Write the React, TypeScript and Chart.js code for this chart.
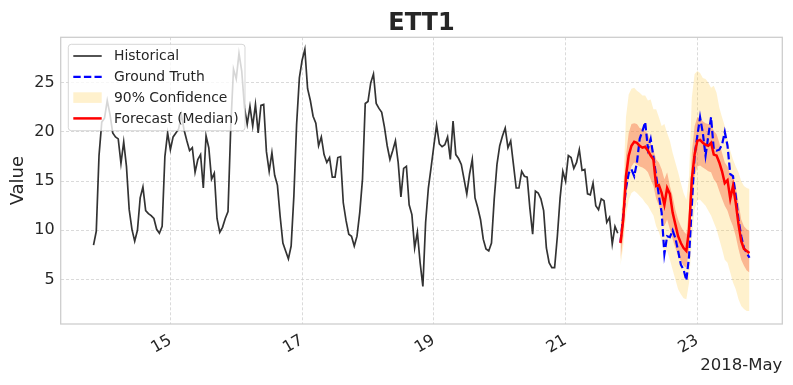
import React, { useEffect, useRef } from "react";
import { Chart, registerables } from "chart.js";

Chart.register(...registerables);

// 2018-05-13 20:00, hourly samples (x values are day-of-month)
const START_DAY = 13 + 20 / 24;
const X_TICKS = [15, 17, 19, 21, 23];
const Y_TICKS = [5, 10, 15, 20, 25];

const HISTORICAL = [
  8.5, 9.9, 17.6, 21.0, 21.4, 23.2, 21.8, 19.9, 19.5, 19.3,
  16.8, 19.0, 16.5, 12.1, 10.1, 8.9, 10.0, 13.3, 14.4, 12.0,
  11.7, 11.5, 11.2, 10.1, 9.7, 10.4, 17.5, 19.9, 18.2, 19.5,
  19.9, 20.3, 21.8, 20.2, 19.1, 18.1, 18.4, 15.9, 17.2, 17.7,
  14.3, 19.6, 18.4, 15.2, 15.8, 11.2, 9.8, 10.3, 11.2, 11.9,
  20.5, 26.4, 25.4, 28.0, 26.2, 22.5, 20.8, 22.6, 20.6, 22.8,
  19.9, 22.7, 22.8, 18.0, 16.0, 17.9, 15.6, 14.6, 11.4, 8.7,
  7.9, 7.1, 8.4, 13.5, 20.8, 25.5, 27.3, 28.4, 24.4, 23.2,
  21.6, 20.9, 18.6, 19.5, 17.7, 16.9, 17.4, 15.4, 15.4, 17.4,
  17.5, 12.8, 11.0, 9.6, 9.4, 8.4, 9.4, 11.8, 15.2, 22.9,
  23.1, 25.0, 25.9, 22.9, 22.4, 22.0, 20.5, 18.6, 17.2, 18.1,
  19.1, 16.9, 13.4, 16.3, 16.5, 12.6, 11.6, 8.2, 9.8, 6.7,
  4.3, 10.8, 14.3, 16.4, 18.6, 20.7, 18.8, 18.5, 18.7, 19.5,
  17.2, 21.1, 17.7, 17.3, 16.7, 15.2, 13.7, 15.7, 17.2, 13.3,
  12.3, 11.1, 9.1, 8.1, 7.9, 8.7, 13.2, 16.7, 18.6, 19.6,
  20.4, 18.4, 19.1, 16.7, 14.3, 14.3, 16.0, 15.5, 15.4, 12.2,
  9.6, 14.0, 13.8, 13.2, 12.0, 8.2, 6.7, 6.2, 6.2, 9.4,
  13.3, 16.0, 15.0, 17.6, 17.4, 16.3, 16.9, 18.2, 16.1, 16.2,
  13.7, 13.6, 14.8, 12.5, 12.1, 13.2, 13.0, 10.8, 11.3, 8.6,
  10.4, 9.7,
];

const GROUND_TRUTH = [
  8.8, 11.5, 14.3, 15.8, 16.2, 15.5, 16.9, 19.3, 20.1, 21.0,
  18.3, 19.3, 17.5, 15.5, 13.5, 11.8, 7.6, 9.4, 9.3, 10.0,
  9.2, 7.9, 6.5, 6.0, 4.9, 7.4, 12.5, 17.6, 19.6, 21.5,
  19.9, 17.6, 19.6, 21.5, 18.2, 18.1, 18.2, 18.7, 20.0, 18.6,
  15.7, 15.5, 13.5, 11.1, 9.4, 8.2, 7.7, 7.2,
];

const MEDIAN = [
  8.7, 11.1, 15.5, 17.6, 18.6, 19.0, 18.9, 18.6, 18.4, 18.5,
  18.1, 17.6, 17.2, 14.5, 14.6, 13.8, 12.6, 14.3, 13.7, 11.8,
  10.6, 9.4, 8.7, 8.2, 7.9, 10.1, 15.2, 17.7, 19.1, 19.2,
  18.9, 18.7, 18.6, 18.9, 17.7, 17.6, 16.9, 16.0, 14.8, 15.1,
  13.2, 14.5, 12.8, 10.6, 8.9, 8.1, 7.9, 7.7,
];

const UPPER_90 = [
  10.4, 14.5, 21.5, 23.8, 24.4, 24.5, 24.2, 24.0, 23.7, 23.7,
  23.2, 23.3, 22.3, 22.3, 21.5, 20.6, 20.8, 19.9, 19.1, 17.9,
  16.9, 15.9, 14.8, 13.8, 13.1, 15.5, 23.5, 25.9, 26.2, 26.0,
  25.5, 25.4, 25.0, 24.5, 24.7, 24.0, 22.5, 21.5, 20.6, 19.4,
  18.1, 17.2, 16.5, 15.9, 15.0, 14.5, 14.3, 14.2,
];

const LOWER_90 = [
  6.4, 8.4, 11.5, 13.1, 13.8, 14.0, 13.8, 13.5, 13.2, 12.8,
  12.5, 12.0, 11.5, 10.4, 9.8, 8.9, 7.7, 7.9, 7.0, 6.0,
  5.0, 4.0, 3.5, 3.1, 3.0, 4.7, 9.1, 12.1, 13.1, 13.1,
  12.8, 12.5, 12.0, 11.5, 10.8, 10.1, 9.1, 8.1, 7.0, 6.7,
  5.7, 4.7, 4.0, 3.0, 2.3, 2.0, 1.8, 1.8,
];

const UPPER_50 = [
  9.8, 12.8, 17.6, 19.9, 20.8, 20.9, 20.8, 20.4, 20.3, 20.1,
  19.8, 18.9, 18.2, 17.2, 16.9, 16.2, 15.2, 15.9, 14.5, 13.5,
  12.1, 11.1, 10.4, 9.9, 9.6, 12.1, 17.9, 20.6, 21.5, 21.4,
  21.1, 20.9, 20.8, 20.8, 20.1, 19.8, 18.9, 17.9, 16.9, 16.5,
  15.7, 15.5, 14.5, 12.8, 11.1, 10.4, 10.1, 9.9,
];

const LOWER_50 = [
  7.0, 9.4, 13.2, 15.4, 16.5, 16.9, 16.7, 16.5, 16.4, 16.2,
  15.9, 15.2, 14.5, 13.2, 12.5, 11.6, 10.4, 11.1, 10.1, 9.1,
  8.2, 7.4, 6.9, 6.4, 6.2, 8.1, 12.8, 15.5, 16.5, 16.6,
  16.4, 16.2, 16.0, 15.9, 15.2, 14.8, 14.0, 13.2, 12.5, 12.0,
  11.1, 10.4, 9.4, 8.1, 7.0, 6.4, 5.9, 5.7,
];

const X_MIN = 13.335;
const X_MAX = 24.29;
const Y_MIN = 0.47;
const Y_MAX = 29.63;

const FONT = '"DejaVu Sans", sans-serif';
const TEXT = "#262626";
const BAND90 = "rgba(255,200,60,0.26)";
const BAND50 = "rgba(245,80,40,0.36)";
const HIST_COLOR = "rgba(0,0,0,0.8)";

const toPoints = (vals: number[], offset: number) =>
  vals.map((v, i) => ({ x: START_DAY + (offset + i) / 24, y: v }));

const decorPlugin = {
  id: "decor",
  afterDraw(chart: any) {
    const { ctx, chartArea: a } = chart;
    ctx.save();
    // frame
    ctx.strokeStyle = "#cccccc";
    ctx.lineWidth = 1.25;
    ctx.setLineDash([]);
    ctx.strokeRect(a.left, a.top, a.right - a.left, a.bottom - a.top);

    // title
    ctx.fillStyle = TEXT;
    ctx.font = `bold 24px ${FONT}`;
    ctx.textAlign = "center";
    ctx.textBaseline = "alphabetic";
    ctx.fillText("ETT1", (a.left + a.right) / 2, 30);

    // date offset text
    ctx.font = `16.5px ${FONT}`;
    ctx.textAlign = "right";
    ctx.textBaseline = "middle";
    ctx.fillText("2018-May", a.right, 366);

    // legend
    const lx = a.left + 7.6;
    const ly = a.top + 7;
    const lw = 176.7;
    const lh = 86.4;
    ctx.beginPath();
    ctx.roundRect(lx, ly, lw, lh, 3);
    ctx.fillStyle = "rgba(255,255,255,0.8)";
    ctx.fill();
    ctx.strokeStyle = "rgba(204,204,204,0.8)";
    ctx.lineWidth = 1;
    ctx.stroke();

    const sx0 = lx + 5;
    const sx1 = lx + 33.4;
    const tx = lx + 45.7;
    const rowY = (i: number) => ly + 11.7 + i * 20.8;

    // Historical
    ctx.beginPath();
    ctx.strokeStyle = HIST_COLOR;
    ctx.lineWidth = 1.7;
    ctx.moveTo(sx0, rowY(0));
    ctx.lineTo(sx1, rowY(0));
    ctx.stroke();
    // Ground truth
    ctx.beginPath();
    ctx.strokeStyle = "#0000ff";
    ctx.lineWidth = 2.2;
    ctx.setLineDash([7.4, 3.2]);
    ctx.moveTo(sx0, rowY(1));
    ctx.lineTo(sx1, rowY(1));
    ctx.stroke();
    ctx.setLineDash([]);
    // 90% band
    ctx.fillStyle = BAND90;
    ctx.fillRect(sx0, rowY(2) - 5.3, sx1 - sx0, 10.6);
    // Median
    ctx.beginPath();
    ctx.strokeStyle = "#ff0000";
    ctx.lineWidth = 2.5;
    ctx.moveTo(sx0, rowY(3));
    ctx.lineTo(sx1, rowY(3));
    ctx.stroke();

    ctx.fillStyle = TEXT;
    ctx.font = `13.9px ${FONT}`;
    ctx.textAlign = "left";
    ctx.textBaseline = "middle";
    ["Historical", "Ground Truth", "90% Confidence", "Forecast (Median)"].forEach(
      (t, i) => ctx.fillText(t, tx, rowY(i) + 0.5)
    );
    ctx.restore();
  },
};

export default function App() {
  const ref = useRef<HTMLCanvasElement | null>(null);

  useEffect(() => {
    if (!ref.current) return;
    Chart.defaults.font.family = FONT;
    const fc = HISTORICAL.length;
    const chart = new Chart(ref.current, {
      type: "line",
      data: {
        datasets: [
          {
            label: "Forecast (Median)",
            data: toPoints(MEDIAN, fc),
            borderColor: "#ff0000",
            borderWidth: 2.5,
            pointRadius: 0,
            fill: false,
            order: 0,
          },
          {
            label: "Ground Truth",
            data: toPoints(GROUND_TRUTH, fc),
            borderColor: "#0000ff",
            borderWidth: 2.2,
            borderDash: [7.4, 3.2],
            pointRadius: 0,
            fill: false,
            order: 1,
          },
          {
            label: "Historical",
            data: toPoints(HISTORICAL, 0),
            borderColor: HIST_COLOR,
            borderWidth: 1.7,
            pointRadius: 0,
            fill: false,
            order: 2,
          },
          {
            label: "50% upper",
            data: toPoints(UPPER_50, fc),
            borderWidth: 0,
            borderColor: "rgba(0,0,0,0)",
            backgroundColor: BAND50,
            pointRadius: 0,
            fill: "+1",
            order: 3,
          },
          {
            label: "50% lower",
            data: toPoints(LOWER_50, fc),
            borderWidth: 0,
            borderColor: "rgba(0,0,0,0)",
            pointRadius: 0,
            fill: false,
            order: 4,
          },
          {
            label: "90% Confidence",
            data: toPoints(UPPER_90, fc),
            borderWidth: 0,
            borderColor: "rgba(0,0,0,0)",
            backgroundColor: BAND90,
            pointRadius: 0,
            fill: "+1",
            order: 5,
          },
          {
            label: "90% lower",
            data: toPoints(LOWER_90, fc),
            borderWidth: 0,
            borderColor: "rgba(0,0,0,0)",
            pointRadius: 0,
            fill: false,
            order: 6,
          },
        ],
      },
      options: {
        responsive: false,
        animation: false,
        devicePixelRatio: 1,
        layout: { padding: { top: 37.3, right: 10.7, left: 0, bottom: 0 } },
        plugins: {
          legend: { display: false },
          title: { display: false },
          tooltip: { enabled: false },
        },
        elements: { line: { tension: 0 } },
        scales: {
          x: {
            type: "linear",
            min: X_MIN,
            max: X_MAX,
            afterBuildTicks: (s: any) => {
              s.ticks = X_TICKS.map((v) => ({ value: v }));
            },
            afterFit: (s: any) => {
              s.height = 61;
            },
            ticks: {
              minRotation: 30,
              maxRotation: 30,
              color: TEXT,
              font: { size: 16, family: FONT },
              padding: 7,
              callback: (v: any) => String(v),
            },
            grid: {
              color: "#d0d0d0",
              lineWidth: 0.8,
              drawTicks: false,
            },
            border: { display: false, dash: [3, 2] },
          },
          y: {
            type: "linear",
            min: Y_MIN,
            max: Y_MAX,
            afterBuildTicks: (s: any) => {
              s.ticks = Y_TICKS.map((v) => ({ value: v }));
            },
            afterFit: (s: any) => {
              s.width = 60.7;
            },
            ticks: {
              color: TEXT,
              font: { size: 16, family: FONT },
              padding: 6,
              callback: (v: any) => String(v),
            },
            grid: {
              color: "#d0d0d0",
              lineWidth: 0.8,
              drawTicks: false,
            },
            border: { display: false, dash: [3, 2] },
            title: {
              display: true,
              text: "Value",
              color: TEXT,
              font: { size: 18, family: FONT },
              padding: { top: 7.5, bottom: 0 },
            },
          },
        },
      },
      plugins: [decorPlugin],
    } as any);
    return () => chart.destroy();
  }, []);

  return (
    <div
      style={{
        position: "fixed",
        left: 0,
        top: 0,
        width: 793,
        height: 385,
        background: "#ffffff",
      }}
    >
      <canvas
        ref={ref}
        width={793}
        height={385}
        style={{ display: "block", width: 793, height: 385 }}
      />
    </div>
  );
}
